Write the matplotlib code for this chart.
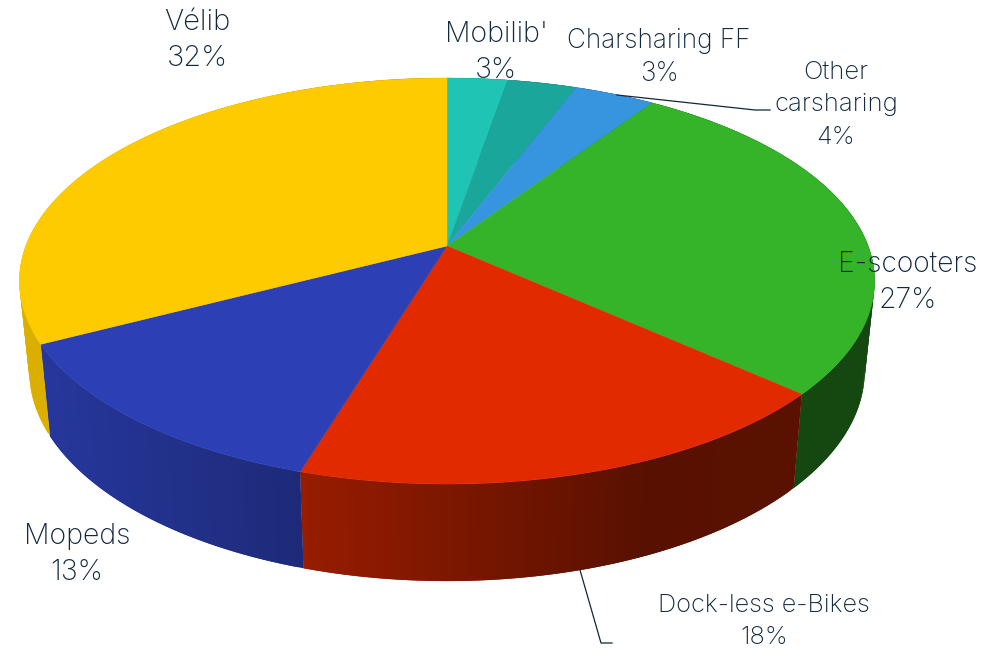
import numpy as np
import matplotlib
matplotlib.use("Agg")
import matplotlib.pyplot as plt
from matplotlib.collections import PolyCollection
from matplotlib.colors import to_rgb

# --- data ---
categories = ["Mobilib'", "Charsharing FF", "Other\ncarsharing", "E-scooters",
              "Dock-less e-Bikes", "Mopeds", "Vélib"]
values = [2.7, 3.1, 3.6, 27.2, 18.1, 12.7, 32.6]
shown_percent = [3, 3, 4, 27, 18, 13, 32]
colors = ["#1fc4b4", "#1aa69a", "#3795e0", "#35b42a", "#e22a00", "#2c3fb4", "#fdcb00"]

# --- layout and styling ---
label_xy = [(496, 34), (659, 41), (836, 72), (908, 264), (764, 605), (77, 536), (197, 23)]
label_size = [20.5, 18.8, 18.5, 20.3, 18.3, 20.5, 21.0]
line_gap = [36, 33, 33, 37, 33, 37, 36]
text_color = "#12293f"
cx, cy = 447.0, 246.0
k, a, b = 0.1724, 197.0, 421.2
leader_lines = [((617, 95), (755, 110), (770, 110)), ((580, 570), (601, 643), (612, 643))]


def project_top(theta):
    X, Y = np.sin(theta), np.cos(theta)
    d = 1 + k * Y
    return cx + b * X / d, cy - a * Y / d


def project_bottom(theta):
    x, y = project_top(theta)
    return cx + 0.977 * (x - cx), 1.036 * y + 79.6


def side_shade(x):
    return np.interp(x, [20, 50, 300, 650, 875], [0.86, 0.86, 0.67, 0.39, 0.40])


fig = plt.figure(figsize=(10.05, 6.48), dpi=100)
ax = fig.add_axes([0, 0, 1, 1])
ax.set_xlim(0, 1005)
ax.set_ylim(648, 0)
ax.axis("off")

edges = np.concatenate([[0], np.cumsum(values)]) / np.sum(values) * 2 * np.pi

# side walls: each band overlaps the next so no seams show
polys, fc = [], []
for i, col in enumerate(colors):
    base = np.array(to_rgb(col))
    n = max(int((edges[i + 1] - edges[i]) / np.radians(0.8)), 2)
    th = np.linspace(edges[i], edges[i + 1], n + 1)
    xt, yt = project_top(th)
    xb, yb = project_bottom(th)
    for j in range(n):
        e = min(j + 2, n)
        polys.append(list(zip(xt[j:e + 1], yt[j:e + 1])) + list(zip(xb[j:e + 1][::-1], yb[j:e + 1][::-1])))
        fc.append(tuple(base * side_shade(0.5 * (xt[j] + xt[j + 1]))))
ax.add_collection(PolyCollection(polys, facecolors=fc, edgecolors="none", linewidths=0, zorder=1))

# top faces
for i, col in enumerate(colors):
    th = np.linspace(edges[i], edges[i + 1], 200)
    x, y = project_top(th)
    ax.fill(np.r_[cx, x], np.r_[cy, y], facecolor=col, edgecolor=col, linewidth=0.3, zorder=2)

# leader lines
for pts in leader_lines:
    ax.plot(*zip(*pts), color="#12263a", lw=0.9, zorder=3, solid_joinstyle="miter")

# labels
style = dict(ha="center", va="center", color=text_color, family="Inter", weight="light", zorder=4)
for name, pct, (x, y), s, gap in zip(categories, shown_percent, label_xy, label_size, line_gap):
    lines = name.split("\n") + [f"{pct}%"]
    for m, line in enumerate(lines):
        ax.text(x, y + m * gap, line, fontsize=s, **style)

fig.savefig("out.png", dpi=100, facecolor="white")
